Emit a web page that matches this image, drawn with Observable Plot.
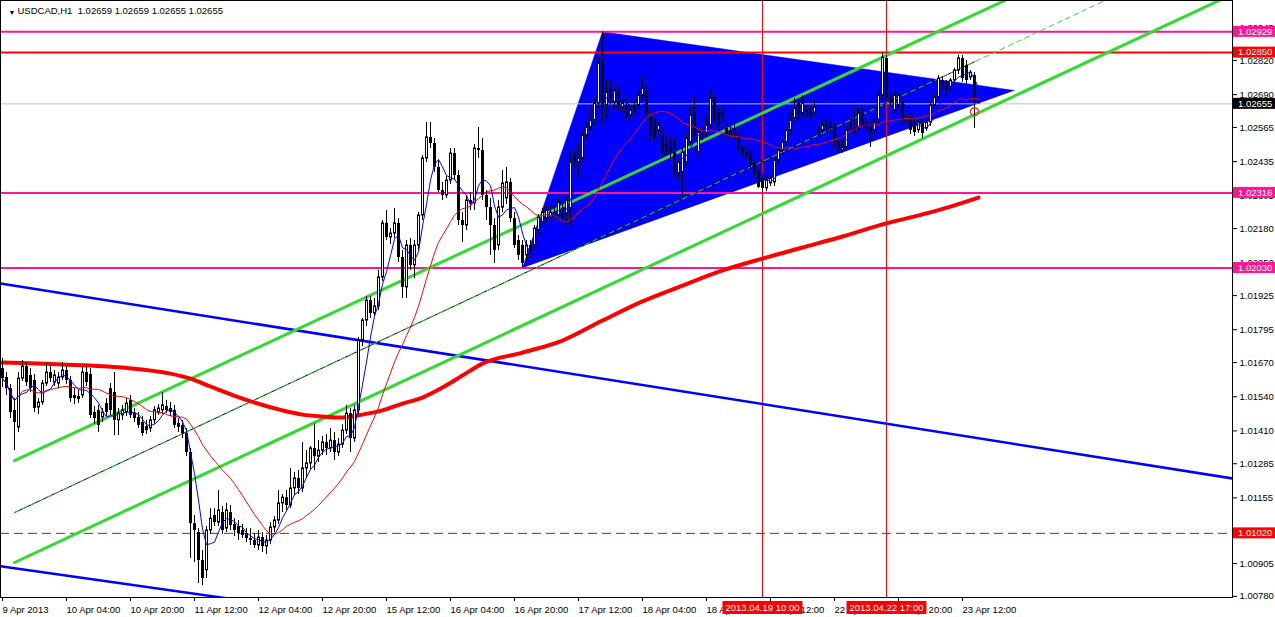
<!DOCTYPE html>
<html><head><meta charset="utf-8">
<script src="https://cdn.jsdelivr.net/npm/d3@7"></script>
<script src="https://cdn.jsdelivr.net/npm/@observablehq/plot@0.6"></script>
<style>
html,body{margin:0;padding:0;background:#fff;}
#chart{width:1275px;height:617px;overflow:hidden;}
svg{display:block;}
</style></head><body><div id="chart"></div>
<script>
// ---- DATA (USDCAD H1, bar index 0 = 9 Apr 2013 12:00) ----
const symbolName = "USDCAD,H1";
const titleValues = [1.02659, 1.02659, 1.02655, 1.02655];

const opens = [
1.01647,1.01613,1.01571,1.01488,1.01423,1.01609,1.01655,1.01621,1.01602,1.01499,
1.01518,1.01590,1.01632,1.01594,1.01590,1.01613,1.01640,1.01602,1.01545,1.01541,
1.01545,1.01632,1.01625,1.01480,1.01488,1.01461,1.01514,1.01571,1.01556,1.01450,
1.01469,1.01480,1.01526,1.01476,1.01461,1.01442,1.01427,1.01419,1.01450,1.01480,
1.01488,1.01503,1.01495,1.01488,1.01438,1.01431,1.01400,1.01328,1.01057,1.01023,
1.00917,1.00879,1.01031,1.01088,1.01061,1.01099,1.01038,1.01099,1.01054,1.01046,
1.01031,1.01019,1.01000,1.00993,1.00974,1.01004,1.00970,1.00993,1.01042,1.01069,
1.01134,1.01156,1.01126,1.01191,1.01229,1.01191,1.01267,1.01286,1.01343,1.01312,
1.01335,1.01366,1.01343,1.01373,1.01328,1.01358,1.01411,1.01476,1.01381,1.01488,
1.01754,1.01830,1.01906,1.01857,1.01884,1.01994,1.02200,1.02146,1.02161,1.02200,
1.02070,1.01956,1.02116,1.02040,1.02116,1.02230,1.02447,1.02527,1.02504,1.02413,
1.02325,1.02306,1.02363,1.02466,1.02382,1.02211,1.02192,1.02287,1.02276,1.02485,
1.02477,1.02306,1.02260,1.02192,1.02116,1.02260,1.02295,1.02356,1.02218,1.02135,
1.02116,1.02078,1.02116,1.02116,1.02173,1.02203,1.02218,1.02218,1.02241,1.02230,
1.02249,1.02238,1.02257,1.02458,1.02432,1.02447,1.02535,1.02565,1.02592,1.02656,
1.02809,1.02649,1.02713,1.02660,1.02698,1.02641,1.02649,1.02611,1.02649,1.02649,
1.02687,1.02706,1.02611,1.02584,1.02554,1.02546,1.02508,1.02504,1.02508,1.02390,
1.02394,1.02432,1.02508,1.02618,1.02470,1.02546,1.02542,1.02573,1.02675,1.02622,
1.02622,1.02561,1.02554,1.02561,1.02535,1.02485,1.02470,1.02466,1.02428,1.02394,
1.02371,1.02333,1.02352,1.02356,1.02439,1.02477,1.02508,1.02554,1.02599,1.02656,
1.02618,1.02630,1.02630,1.02618,1.02554,1.02554,1.02573,1.02573,1.02565,1.02508,
1.02477,1.02489,1.02573,1.02565,1.02565,1.02618,1.02565,1.02565,1.02554,1.02592,
1.02687,1.02828,1.02679,1.02630,1.02649,1.02656,1.02592,1.02603,1.02584,1.02554,
1.02580,1.02561,1.02584,1.02649,1.02679,1.02744,1.02725,1.02717,1.02744,1.02782,
1.02828,1.02801,1.02755,1.02763,1.02659];

const highs = [
1.01686,1.01632,1.01587,1.01533,1.01632,1.01678,1.01670,1.01647,1.01625,1.01533,
1.01602,1.01670,1.01655,1.01640,1.01632,1.01670,1.01655,1.01617,1.01571,1.01564,
1.01651,1.01655,1.01647,1.01503,1.01507,1.01495,1.01533,1.01590,1.01632,1.01495,
1.01507,1.01533,1.01545,1.01495,1.01480,1.01465,1.01450,1.01465,1.01503,1.01510,
1.01556,1.01526,1.01518,1.01507,1.01457,1.01450,1.01419,1.01343,1.01088,1.01038,
1.00955,1.01046,1.01114,1.01114,1.01183,1.01122,1.01134,1.01126,1.01076,1.01069,
1.01054,1.01038,1.01038,1.01019,1.01031,1.01023,1.01012,1.01061,1.01084,1.01183,
1.01168,1.01183,1.01267,1.01252,1.01259,1.01366,1.01335,1.01351,1.01438,1.01373,
1.01389,1.01396,1.01419,1.01404,1.01381,1.01434,1.01507,1.01495,1.01507,1.01766,
1.01838,1.01922,1.01922,1.01914,1.02021,1.02211,1.02249,1.02180,1.02257,1.02218,
1.02097,1.02135,1.02142,1.02135,1.02241,1.02458,1.02584,1.02584,1.02523,1.02439,
1.02356,1.02378,1.02485,1.02485,1.02401,1.02241,1.02306,1.02317,1.02500,1.02565,
1.02523,1.02325,1.02295,1.02218,1.02287,1.02401,1.02413,1.02371,1.02241,1.02154,
1.02135,1.02135,1.02135,1.02192,1.02234,1.02257,1.02264,1.02268,1.02264,1.02295,
1.02272,1.02302,1.02470,1.02477,1.02504,1.02554,1.02584,1.02637,1.02675,1.02828,
1.02929,1.02744,1.02744,1.02717,1.02725,1.02675,1.02675,1.02649,1.02668,1.02698,
1.02763,1.02725,1.02630,1.02599,1.02592,1.02561,1.02535,1.02523,1.02523,1.02447,
1.02485,1.02546,1.02649,1.02687,1.02561,1.02561,1.02611,1.02706,1.02687,1.02637,
1.02637,1.02576,1.02569,1.02576,1.02554,1.02496,1.02485,1.02477,1.02439,1.02409,
1.02382,1.02378,1.02378,1.02447,1.02485,1.02515,1.02561,1.02630,1.02675,1.02668,
1.02687,1.02649,1.02645,1.02668,1.02569,1.02592,1.02592,1.02588,1.02576,1.02523,
1.02515,1.02573,1.02592,1.02637,1.02637,1.02637,1.02592,1.02584,1.02599,1.02698,
1.02850,1.02839,1.02691,1.02706,1.02698,1.02675,1.02611,1.02622,1.02599,1.02595,
1.02592,1.02595,1.02660,1.02691,1.02763,1.02759,1.02744,1.02751,1.02790,1.02840,
1.02839,1.02820,1.02782,1.02774,1.02659];

const lows = [
1.01575,1.01545,1.01457,1.01335,1.01404,1.01598,1.01579,1.01556,1.01480,1.01472,
1.01507,1.01579,1.01594,1.01579,1.01571,1.01602,1.01587,1.01518,1.01510,1.01514,
1.01533,1.01579,1.01457,1.01434,1.01404,1.01442,1.01465,1.01469,1.01392,1.01392,
1.01450,1.01465,1.01457,1.01442,1.01419,1.01389,1.01396,1.01404,1.01434,1.01469,
1.01472,1.01476,1.01465,1.01419,1.01404,1.01381,1.01312,1.00924,1.00909,1.00829,
1.00821,1.00848,1.01016,1.01046,1.01046,1.01016,1.01023,1.01031,1.01008,1.00993,
1.01000,1.00985,1.00974,1.00962,1.00955,1.00947,1.00939,1.00978,1.01023,1.01054,
1.01099,1.01107,1.01114,1.01164,1.01168,1.01175,1.01229,1.01259,1.01259,1.01290,
1.01316,1.01316,1.01328,1.01297,1.01312,1.01343,1.01396,1.01328,1.01366,1.01472,
1.01731,1.01807,1.01838,1.01846,1.01868,1.01979,1.02135,1.02120,1.02142,1.02051,
1.01914,1.01914,1.02021,1.01990,1.02097,1.02211,1.02432,1.02485,1.02394,1.02317,
1.02287,1.02295,1.02348,1.02363,1.02192,1.02127,1.02173,1.02249,1.02249,1.02447,
1.02287,1.02211,1.02078,1.02047,1.02097,1.02241,1.02272,1.02203,1.02104,1.02059,
1.02030,1.02051,1.02066,1.02097,1.02154,1.02188,1.02203,1.02203,1.02218,1.02211,
1.02203,1.02192,1.02192,1.02409,1.02371,1.02432,1.02515,1.02546,1.02573,1.02637,
1.02573,1.02599,1.02653,1.02630,1.02622,1.02622,1.02592,1.02592,1.02607,1.02630,
1.02668,1.02599,1.02515,1.02508,1.02535,1.02447,1.02455,1.02447,1.02371,1.02363,
1.02295,1.02417,1.02493,1.02515,1.02455,1.02515,1.02527,1.02561,1.02576,1.02554,
1.02584,1.02515,1.02523,1.02515,1.02470,1.02455,1.02439,1.02409,1.02375,1.02333,
1.02316,1.02320,1.02340,1.02340,1.02428,1.02462,1.02493,1.02542,1.02584,1.02592,
1.02603,1.02599,1.02592,1.02607,1.02535,1.02542,1.02554,1.02550,1.02485,1.02470,
1.02466,1.02477,1.02554,1.02535,1.02554,1.02561,1.02554,1.02489,1.02538,1.02576,
1.02668,1.02668,1.02645,1.02618,1.02637,1.02580,1.02580,1.02538,1.02531,1.02542,
1.02523,1.02550,1.02569,1.02637,1.02668,1.02706,1.02687,1.02698,1.02729,1.02767,
1.02736,1.02729,1.02744,1.02561,1.02655];

const closes = [
1.01609,1.01571,1.01480,1.01442,1.01609,1.01655,1.01594,1.01571,1.01495,1.01518,
1.01590,1.01632,1.01609,1.01621,1.01613,1.01640,1.01602,1.01533,1.01533,1.01529,
1.01632,1.01594,1.01469,1.01457,1.01431,1.01480,1.01480,1.01488,1.01450,1.01476,
1.01488,1.01514,1.01469,1.01457,1.01431,1.01400,1.01411,1.01450,1.01488,1.01495,
1.01507,1.01488,1.01480,1.01431,1.01423,1.01400,1.01328,1.01057,1.01031,1.00917,
1.00848,1.01031,1.01076,1.01061,1.01107,1.01031,1.01107,1.01050,1.01031,1.01019,
1.01012,1.01000,1.00993,1.00974,1.01004,1.00970,1.00993,1.01042,1.01069,1.01134,
1.01156,1.01126,1.01191,1.01229,1.01191,1.01267,1.01286,1.01343,1.01312,1.01335,
1.01366,1.01343,1.01373,1.01328,1.01358,1.01411,1.01476,1.01381,1.01488,1.01754,
1.01830,1.01906,1.01857,1.01884,1.01994,1.02200,1.02146,1.02161,1.02200,1.02070,
1.01956,1.02116,1.02040,1.02116,1.02230,1.02447,1.02527,1.02504,1.02413,1.02325,
1.02306,1.02363,1.02466,1.02382,1.02211,1.02192,1.02287,1.02276,1.02485,1.02477,
1.02306,1.02260,1.02192,1.02097,1.02260,1.02352,1.02356,1.02218,1.02116,1.02078,
1.02047,1.02116,1.02078,1.02180,1.02222,1.02241,1.02249,1.02241,1.02234,1.02279,
1.02222,1.02287,1.02432,1.02432,1.02447,1.02535,1.02565,1.02592,1.02656,1.02809,
1.02637,1.02698,1.02675,1.02706,1.02649,1.02656,1.02603,1.02630,1.02622,1.02687,
1.02713,1.02622,1.02535,1.02527,1.02573,1.02470,1.02470,1.02470,1.02394,1.02432,
1.02470,1.02523,1.02611,1.02535,1.02546,1.02535,1.02573,1.02675,1.02592,1.02573,
1.02599,1.02535,1.02535,1.02535,1.02485,1.02466,1.02458,1.02428,1.02390,1.02337,
1.02333,1.02363,1.02371,1.02439,1.02477,1.02508,1.02554,1.02592,1.02637,1.02611,
1.02656,1.02611,1.02611,1.02641,1.02546,1.02573,1.02565,1.02561,1.02504,1.02485,
1.02489,1.02554,1.02561,1.02546,1.02618,1.02573,1.02573,1.02546,1.02584,1.02687,
1.02830,1.02679,1.02656,1.02687,1.02687,1.02592,1.02603,1.02554,1.02546,1.02584,
1.02542,1.02584,1.02649,1.02679,1.02751,1.02725,1.02706,1.02744,1.02782,1.02828,
1.02751,1.02744,1.02774,1.02656,1.02655];

// slow moving average
const slowMaBars   = [0,15,30,42,47,52,60,70,75,80,85,90,95,100,105,110,115,120,130,140,150,160,170,180,190,200,210,220,230,237,244];
const slowMaValues = [1.01670,1.01663,1.01651,1.01628,1.01609,1.01579,1.01533,1.01488,1.01472,1.01465,1.01461,1.01472,1.01488,1.01514,1.01537,1.01575,1.01621,1.01666,1.01708,1.01754,1.01830,1.01903,1.01963,1.02021,1.02066,1.02108,1.02150,1.02196,1.02234,1.02264,1.02298];

// horizontal levels
const pinkLevels = [1.02929, 1.02316, 1.02030];
const redLevels = [1.02850];
const dashedLevels = [1.01020];
const bidPrice = 1.02655;

// vertical lines
const vlineBars = [190, 221];
const vlineLabels = ["2013.04.19 10:00", "2013.04.22 17:00"];

// triangle
const triBars = [130, 150, 253];
const triPrices = [1.02030, 1.02929, 1.02706];

// green channel (anchor bars / prices)
const chanBars = [3, 243];
const chanUpper = [1.01297, 1.02995];
const chanMiddle = [1.01099, 1.02815];
const chanLower = [1.00909, 1.02614];

// blue channel
const blueBars = [-0.5, 307.5];
const blueUpper = [1.01971, 1.01229];
const blueLower = [1.00895, 1.00229];

// marker
const markerBar = 243, markerPrice = 1.02625;

// axes
const yTicks = [1.02945,1.02820,1.02690,1.02565,1.02435,1.02305,1.02180,1.02050,1.01925,1.01795,1.01670,1.01540,1.01410,1.01285,1.01155,1.01030,1.00905,1.00780];
const xTickBars = [0,16,32,48,64,80,96,112,128,144,160,176,192,208,224,240];
const xTickLabels = ["9 Apr 2013","10 Apr 04:00","10 Apr 20:00","11 Apr 12:00","12 Apr 04:00","12 Apr 20:00","15 Apr 12:00","16 Apr 04:00","16 Apr 20:00","17 Apr 12:00","18 Apr 04:00","18 Apr 20:00","19 Apr 12:00","22 Apr 04:00","22 Apr 20:00","23 Apr 12:00"];

// ---- BUILD ----
const bars = opens.map((o, i) => ({i, o, h: highs[i], l: lows[i], c: closes[i]}));
const upBars = bars.filter(d => d.c >= d.o);
const downBars = bars.filter(d => d.c < d.o);
const slowMa = slowMaBars.map((b, k) => ({i: b, p: slowMaValues[k]}));
const tri = triBars.map((b, k) => ({i: b, p: triPrices[k]}));
const xEnd = 307.5;
function ray(bs, ps) {
  const slope = (ps[1] - ps[0]) / (bs[1] - bs[0]);
  return [{i: bs[0], p: ps[0]}, {i: xEnd, p: ps[0] + slope * (xEnd - bs[0])}];
}
const seg = (bs, ps) => bs.map((b, k) => ({i: b, p: ps[k]}));
const green = "#2fdc2f";
const pink = "#ff1493";
const font = "'Liberation Sans', Arial, sans-serif";

const plot = Plot.plot({
  width: 1275, height: 617,
  marginTop: 0, marginBottom: 20, marginLeft: 0, marginRight: 43,
  x: {domain: [-0.5, 307.5], axis: null},
  y: {domain: [1.007758, 1.030484], axis: null},
  style: {fontFamily: font, fontSize: "9.5px", background: "white", color: "black", overflow: "visible"},
  marks: [
    Plot.line(tri, {x: "i", y: "p", fill: "#0000ff", stroke: "#0000ff", strokeWidth: 0.5}),
    Plot.ruleY(pinkLevels, {stroke: pink, strokeWidth: 2}),
    Plot.ruleY(redLevels, {stroke: "#ff0000", strokeWidth: 2}),
    Plot.ruleY(dashedLevels, {stroke: "#e00000", strokeWidth: 1, strokeDasharray: "9,5"}),
    Plot.ruleY([bidPrice], {stroke: "#c0c0c0", strokeWidth: 1}),
    Plot.ruleX(vlineBars, {stroke: "#ff0000", strokeWidth: 1}),
    Plot.line(seg(blueBars, blueUpper), {x: "i", y: "p", stroke: "#0000ff", strokeWidth: 2.5, clip: true}),
    Plot.line(seg(blueBars, blueLower), {x: "i", y: "p", stroke: "#0000ff", strokeWidth: 2.5, clip: true}),
    Plot.line(ray(chanBars, chanUpper), {x: "i", y: "p", stroke: green, strokeWidth: 3, clip: true}),
    Plot.line(ray(chanBars, chanLower), {x: "i", y: "p", stroke: green, strokeWidth: 3, clip: true}),
    Plot.line(seg(chanBars, chanMiddle), {x: "i", y: "p", stroke: "black", strokeWidth: 1, clip: true}),
    Plot.line(ray(chanBars, chanMiddle), {x: "i", y: "p", stroke: green, strokeWidth: 1, strokeDasharray: "5,4", clip: true}),
    Plot.line(slowMa, {x: "i", y: "p", stroke: "#ff0000", strokeWidth: 4, curve: "monotone-x"}),
    Plot.ruleX(bars, {x: "i", y1: "l", y2: "h", stroke: "black", strokeWidth: 1}),
    Plot.rect(downBars, {x1: d => d.i - 0.5, x2: d => d.i + 0.5, y1: "o", y2: "c", fill: "black", insetLeft: 1, insetRight: 0}),
    Plot.rect(upBars, {x1: d => d.i - 0.5, x2: d => d.i + 0.5, y1: "o", y2: "c", fill: "white", stroke: "black", strokeWidth: 1, insetLeft: 1.5, insetRight: 0.5}),
    Plot.lineY(bars, Plot.windowY({k: 21, anchor: "end"}, {x: "i", y: "c", stroke: "#ff0000", strokeWidth: 1})),
    Plot.lineY(bars, Plot.windowY({k: 5, anchor: "end"}, {x: "i", y: "c", stroke: "#0000ff", strokeWidth: 1})),
    Plot.dot([{i: markerBar, p: markerPrice}], {x: "i", y: "p", r: 4, stroke: "#ff3030", fill: "none", strokeWidth: 1.5}),
    Plot.axisY(yTicks, {anchor: "right", tickSize: 4, tickPadding: 3, tickFormat: d => d.toFixed(5), label: null, fontSize: 9.5}),
    Plot.axisX(xTickBars, {anchor: "bottom", tickSize: 4, tickPadding: 5, textAnchor: "start", tickFormat: d => xTickLabels[xTickBars.indexOf(d)], label: null, fontSize: 9.5}),
    Plot.frame({stroke: "black"}),
    Plot.text(["\u25BC"], {frameAnchor: "top-left", dx: 8, dy: 10, fontSize: 7, fill: "black"}),
    Plot.text([symbolName + "\u00a0\u00a0" + titleValues.map(v => v.toFixed(5)).join(" ")], {frameAnchor: "top-left", dx: 17, dy: 10, textAnchor: "start", lineAnchor: "middle", fontSize: 9.5, fill: "black"})
  ]
});

// price labels and time labels using the plot's own scales
const ys = plot.scale("y"), xs = plot.scale("x");
const svg = d3.select(plot);
const priceLabels = [
  ...pinkLevels.map(v => ({v, bg: pink})),
  ...redLevels.map(v => ({v, bg: "#ff0000"})),
  {v: bidPrice, bg: "#000000"},
  ...dashedLevels.map(v => ({v, bg: "#ff0000"}))
];
const gl = svg.append("g").attr("font-family", font).attr("font-size", "9.5px").attr("text-anchor", "start");
for (const d of priceLabels) {
  const y = ys.apply(d.v);
  gl.append("rect").attr("x", 1233).attr("y", y - 5.5).attr("width", 42).attr("height", 11).attr("fill", d.bg);
  gl.append("text").attr("x", 1238).attr("y", y).attr("dy", "0.35em").attr("text-anchor", "start").attr("fill", "white").text(d.v.toFixed(5));
}
vlineBars.forEach((b, k) => {
  const x = Math.round(xs.apply(b)) + 0.5;
  gl.append("rect").attr("x", x - 40).attr("y", 601).attr("width", 80).attr("height", 13).attr("fill", "#ff0000");
  gl.append("text").attr("x", x).attr("y", 607.5).attr("dy", "0.35em").attr("text-anchor", "middle").attr("fill", "white").text(vlineLabels[k]);
});

document.getElementById("chart").appendChild(plot);
</script></body></html>
